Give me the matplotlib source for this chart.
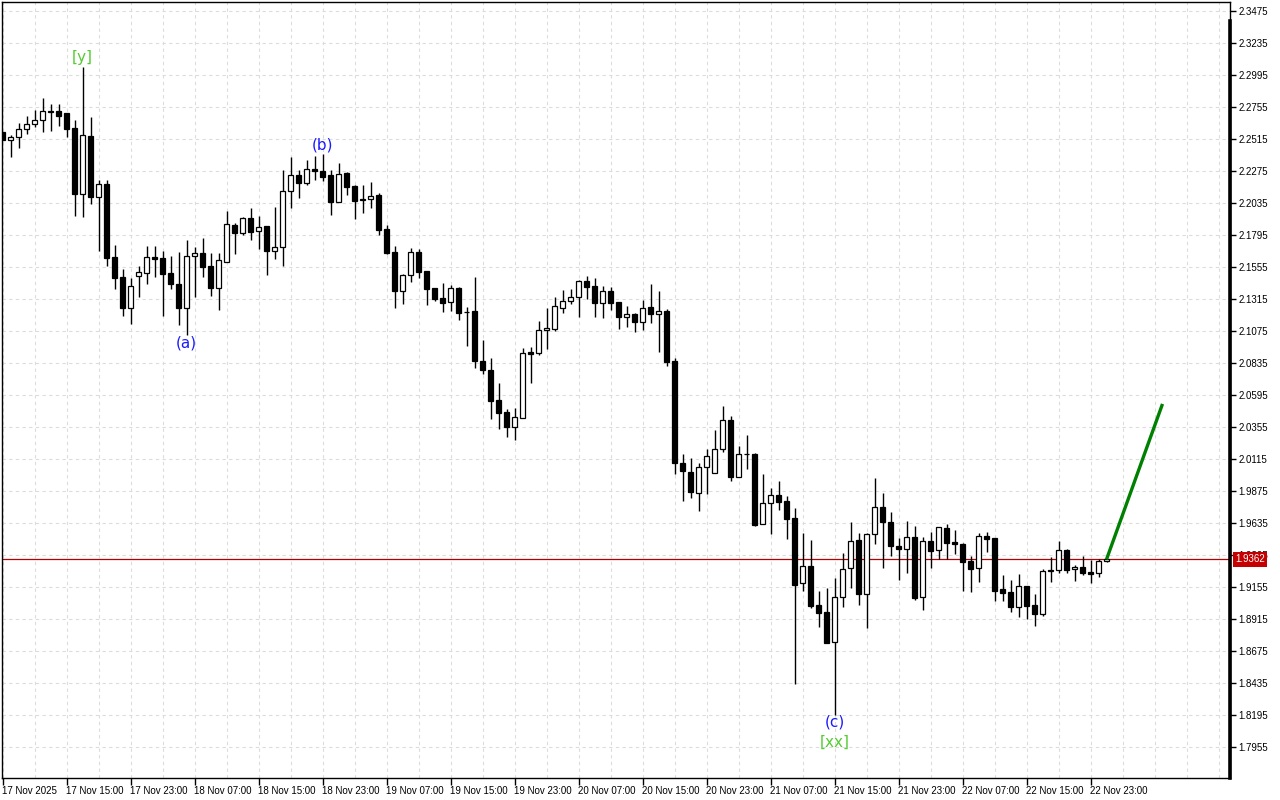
import matplotlib
matplotlib.use("Agg")
import matplotlib.pyplot as plt
import numpy as np
import pandas as pd

# hourly bars, first bar 17 Nov 2025 07:00
start = pd.Timestamp("2025-11-17 07:00")

opens = [2.2565, 2.2505, 2.2528, 2.2588, 2.2625, 2.2655, 2.2722, 2.2725, 2.2710, 2.2598,
         2.2100, 2.2538, 2.2078, 2.2178, 2.1630, 2.1480, 2.1250, 2.1485, 2.1512, 2.1628,
         2.1620, 2.1508, 2.1428, 2.1250, 2.1640, 2.1660, 2.1563, 2.1400, 2.1595, 2.1870,
         2.1813, 2.1920, 2.1823, 2.1863, 2.1678, 2.1703, 2.2123, 2.2243, 2.2183, 2.2288,
         2.2273, 2.2243, 2.2040, 2.2258, 2.2163, 2.2063, 2.2063, 2.2095, 2.1840, 2.1665,
         2.1378, 2.1493, 2.1665, 2.1525, 2.1397, 2.1323, 2.1295, 2.1397, 2.1218, 2.1225,
         2.0853, 2.0783, 2.0558, 2.0468, 2.0358, 2.0420, 2.0915, 2.0913, 2.1080, 2.1093,
         2.1250, 2.1298, 2.1328, 2.1448, 2.1413, 2.1288, 2.1373, 2.1293, 2.1183, 2.1203,
         2.1145, 2.1253, 2.1205, 2.1225, 2.0850, 2.0083, 2.0018, 1.9858, 2.0053, 2.0008,
         2.0188, 2.0405, 1.9983, 2.0150, 2.0150, 1.9625, 1.9783, 1.9845, 1.9800, 1.9673,
         1.9183, 1.9313, 1.9020, 1.8968, 1.8745, 1.9078, 1.9295, 1.9505, 1.9100, 1.9550,
         1.9753, 1.9643, 1.9463, 1.9443, 1.9528, 1.9078, 1.9500, 1.9430, 1.9598, 1.9495,
         1.9478, 1.9350, 1.9295, 1.9535, 1.9523, 1.9140, 1.9115, 1.9008, 1.9163, 1.9020,
         1.8953, 1.9275, 1.9283, 1.9433, 1.9288, 1.9303, 1.9268, 1.9258, 1.9350]
highs = [2.2568, 2.2545, 2.2633, 2.2688, 2.2733, 2.2820, 2.2778, 2.2778, 2.2710, 2.2658,
         2.3058, 2.2678, 2.2208, 2.2208, 2.1720, 2.1540, 2.1470, 2.1565, 2.1713, 2.1713,
         2.1675, 2.1638, 2.1668, 2.1755, 2.1705, 2.1770, 2.1658, 2.1660, 2.1975, 2.1888,
         2.1930, 2.1995, 2.1938, 2.1863, 2.2003, 2.2283, 2.2383, 2.2283, 2.2358, 2.2388,
         2.2403, 2.2283, 2.2333, 2.2268, 2.2170, 2.2170, 2.2193, 2.2113, 2.1868, 2.1710,
         2.1503, 2.1698, 2.1690, 2.1525, 2.1397, 2.1435, 2.1420, 2.1407, 2.1255, 2.1483,
         2.1008, 2.0870, 2.0688, 2.0490, 2.0500, 2.0950, 2.0953, 2.1150, 2.1245, 2.1330,
         2.1383, 2.1390, 2.1458, 2.1488, 2.1470, 2.1413, 2.1403, 2.1293, 2.1263, 2.1208,
         2.1305, 2.1428, 2.1375, 2.1238, 2.0870, 2.0150, 2.0120, 2.0083, 2.0188, 2.0333,
         2.0513, 2.0438, 2.0213, 2.0295, 2.0158, 2.0003, 1.9895, 1.9950, 1.9838, 1.9745,
         1.9563, 1.9508, 1.9125, 1.9150, 1.9220, 1.9408, 1.9645, 1.9558, 1.9563, 1.9970,
         1.9858, 1.9715, 1.9520, 1.9650, 1.9613, 1.9533, 1.9570, 1.9608, 1.9628, 1.9583,
         1.9488, 1.9388, 1.9558, 1.9570, 1.9523, 1.9245, 1.9208, 1.9253, 1.9163, 1.9103,
         1.9290, 1.9378, 1.9500, 1.9438, 1.9320, 1.9388, 1.9358, 1.9363, 1.9365]
lows = [2.2505, 2.2378, 2.2445, 2.2555, 2.2603, 2.2570, 2.2578, 2.2613, 2.2533, 2.1940,
        2.1933, 2.2028, 2.1678, 2.1563, 2.1393, 2.1188, 2.1130, 2.1330, 2.1430, 2.1480,
        2.1188, 2.1393, 2.1120, 2.1045, 2.1330, 2.1480, 2.1338, 2.1235, 2.1590, 2.1655,
        2.1798, 2.1758, 2.1690, 2.1495, 2.1615, 2.1565, 2.2000, 2.2075, 2.2168, 2.2208,
        2.2203, 2.1948, 2.2040, 2.2093, 2.1918, 2.1958, 2.2000, 2.1797, 2.1655, 2.1250,
        2.1280, 2.1445, 2.1475, 2.1273, 2.1303, 2.1220, 2.1225, 2.1160, 2.0965, 2.0800,
        2.0750, 2.0418, 2.0338, 2.0283, 2.0258, 2.0420, 2.0688, 2.0898, 2.0940, 2.1078,
        2.1213, 2.1280, 2.1183, 2.1318, 2.1183, 2.1175, 2.1233, 2.1093, 2.1108, 2.1068,
        2.1083, 2.1138, 2.0920, 2.0815, 2.0000, 1.9803, 1.9820, 1.9728, 1.9850, 2.0008,
        2.0170, 1.9953, 1.9978, 2.0040, 1.9615, 1.9625, 1.9553, 1.9733, 1.9515, 1.8428,
        1.9125, 1.9000, 1.8858, 1.8733, 1.8195, 1.9008, 1.9145, 1.9020, 1.8850, 1.9480,
        1.9295, 1.9390, 1.9208, 1.9258, 1.9058, 1.8983, 1.9295, 1.9363, 1.9363, 1.9400,
        1.9128, 1.9120, 1.9195, 1.9420, 1.9053, 1.9053, 1.8970, 1.8933, 1.8915, 1.8865,
        1.8940, 1.9195, 1.9258, 1.9258, 1.9203, 1.9243, 1.9183, 1.9233, 1.9345]
closes = [2.2508, 2.2528, 2.2588, 2.2625, 2.2655, 2.2725, 2.2720, 2.2690, 2.2593, 2.2105,
          2.2543, 2.2078, 2.2175, 2.1625, 2.1475, 2.1250, 2.1410, 2.1515, 2.1628, 2.1618,
          2.1505, 2.1430, 2.1250, 2.1638, 2.1658, 2.1555, 2.1400, 2.1605, 2.1878, 2.1813,
          2.1920, 2.1820, 2.1858, 2.1678, 2.1703, 2.2123, 2.2243, 2.2183, 2.2288, 2.2273,
          2.2228, 2.2040, 2.2250, 2.2158, 2.2053, 2.2060, 2.2085, 2.1835, 2.1660, 2.1378,
          2.1493, 2.1665, 2.1520, 2.1393, 2.1318, 2.1288, 2.1395, 2.1213, 2.1215, 2.0848,
          2.0783, 2.0553, 2.0463, 2.0358, 2.0428, 2.0908, 2.0905, 2.1080, 2.1095, 2.1260,
          2.1298, 2.1328, 2.1448, 2.1408, 2.1288, 2.1373, 2.1288, 2.1183, 2.1200, 2.1145,
          2.1245, 2.1205, 2.1225, 2.0845, 2.0083, 2.0023, 1.9865, 2.0053, 2.0135, 2.0188,
          2.0405, 1.9983, 2.0150, 2.0150, 1.9620, 1.9783, 1.9843, 1.9795, 1.9668, 1.9170,
          1.9313, 1.9013, 1.8963, 1.8738, 1.9078, 1.9288, 1.9500, 1.9100, 1.9550, 1.9753,
          1.9640, 1.9465, 1.9438, 1.9528, 1.9075, 1.9500, 1.9428, 1.9603, 1.9488, 1.9475,
          1.9345, 1.9293, 1.9535, 1.9518, 1.9128, 1.9113, 1.9003, 1.9163, 1.9015, 1.8953,
          1.9275, 1.9283, 1.9433, 1.9283, 1.9303, 1.9263, 1.9250, 1.9348, 1.9362]

price_ticks = [2.3475, 2.3235, 2.2995, 2.2755, 2.2515, 2.2275, 2.2035, 2.1795,
               2.1555, 2.1315, 2.1075, 2.0835, 2.0595, 2.0355, 2.0115, 1.9875,
               1.9635, 1.9395, 1.9155, 1.8915, 1.8675, 1.8435, 1.8195, 1.7955]

last_price = 1.9362

# projected move drawn from the last bar
forecast_x = [138, 145]
forecast_y = [1.9362, 2.0528]

wave_text = ["[y]", "(a)", "(b)", "(c)", "[xx]"]
wave_bar = [10, 23, 40, 104, 104]
wave_price = [2.3123, 2.0985, 2.2470, 1.8143, 1.7993]
wave_color = ["#55cc33", "#1a1aff", "#1a1aff", "#1a1aff", "#55cc33"]

plt.rcParams["font.family"] = ["Liberation Sans", "DejaVu Sans"]

fig = plt.figure(figsize=(12.8, 8), dpi=100)
ax = fig.add_axes([2 / 1280, 22 / 800, 1228 / 1280, 776 / 800])

o = np.array(opens)
c = np.array(closes)
idx = np.arange(len(o))
up = c >= o

ax.vlines(idx, lows, highs, color="black", lw=1.0, zorder=3)
ax.bar(idx[up], (c - o)[up], bottom=o[up], width=0.58, facecolor="white",
       edgecolor="black", linewidth=0.9, zorder=4)
ax.bar(idx[~up], (o - c)[~up], bottom=c[~up], width=0.58, facecolor="black",
       edgecolor="black", linewidth=0.9, zorder=4)

ax.axhline(last_price, color="#b40000", lw=0.9, zorder=2)
ax.plot(forecast_x, forecast_y, color="#008000", lw=2.4, solid_capstyle="butt", zorder=5)

for t, b, p, col in zip(wave_text, wave_bar, wave_price, wave_color):
    ax.text(b, p, t, color=col, fontsize=11, ha="center", va="center",
            family="DejaVu Sans", zorder=6)

ax.set_xlim(-0.0625, 153.4375)
ax.set_ylim(1.77225, 2.35425)

# x ticks every 8 bars, grid every 4
major = list(range(0, len(o), 8))
labels = []
for i in major:
    t = start + pd.Timedelta(hours=i)
    labels.append(t.strftime("%d %b %Y") if i == 0 else t.strftime("%d %b %H:%M"))
ax.set_xticks(major)
ax.set_xticklabels(labels, fontsize=7, ha="left")
ax.set_xticks(range(0, 154, 4), minor=True)
ax.tick_params(axis="x", which="major", direction="out", length=5, width=1, pad=1)
ax.tick_params(axis="x", which="minor", length=0)
for lab in ax.get_xticklabels():
    lab.set_x(lab.get_position()[0])

ax.yaxis.tick_right()
ax.set_yticks(price_ticks)
ax.set_yticklabels([f"{v:.4f}" for v in price_ticks], fontsize=7)
ax.tick_params(axis="y", direction="out", length=4, width=1, pad=2)

ax.grid(which="both", axis="x", color="#dcdcdc", ls=(0, (3, 3)), lw=0.8, zorder=0)
ax.grid(which="major", axis="y", color="#dcdcdc", ls=(0, (3, 3)), lw=0.8, zorder=0)
ax.set_axisbelow(True)

for s in ax.spines.values():
    s.set_color("black")
    s.set_linewidth(1.0)
ax.plot([1, 1], [0, 0.975], transform=ax.transAxes, color="black", lw=2.6,
        clip_on=False, zorder=7)

ax.annotate(f"{last_price:.4f}", xy=(1.0, last_price),
            xycoords=("axes fraction", "data"), xytext=(5, 0),
            textcoords="offset pixels", ha="left", va="center", color="white",
            fontsize=7, annotation_clip=False, zorder=8,
            bbox=dict(boxstyle="square,pad=0.22", fc="#c40000", ec="none"))

fig.savefig("out.png", dpi=100, facecolor="white")
